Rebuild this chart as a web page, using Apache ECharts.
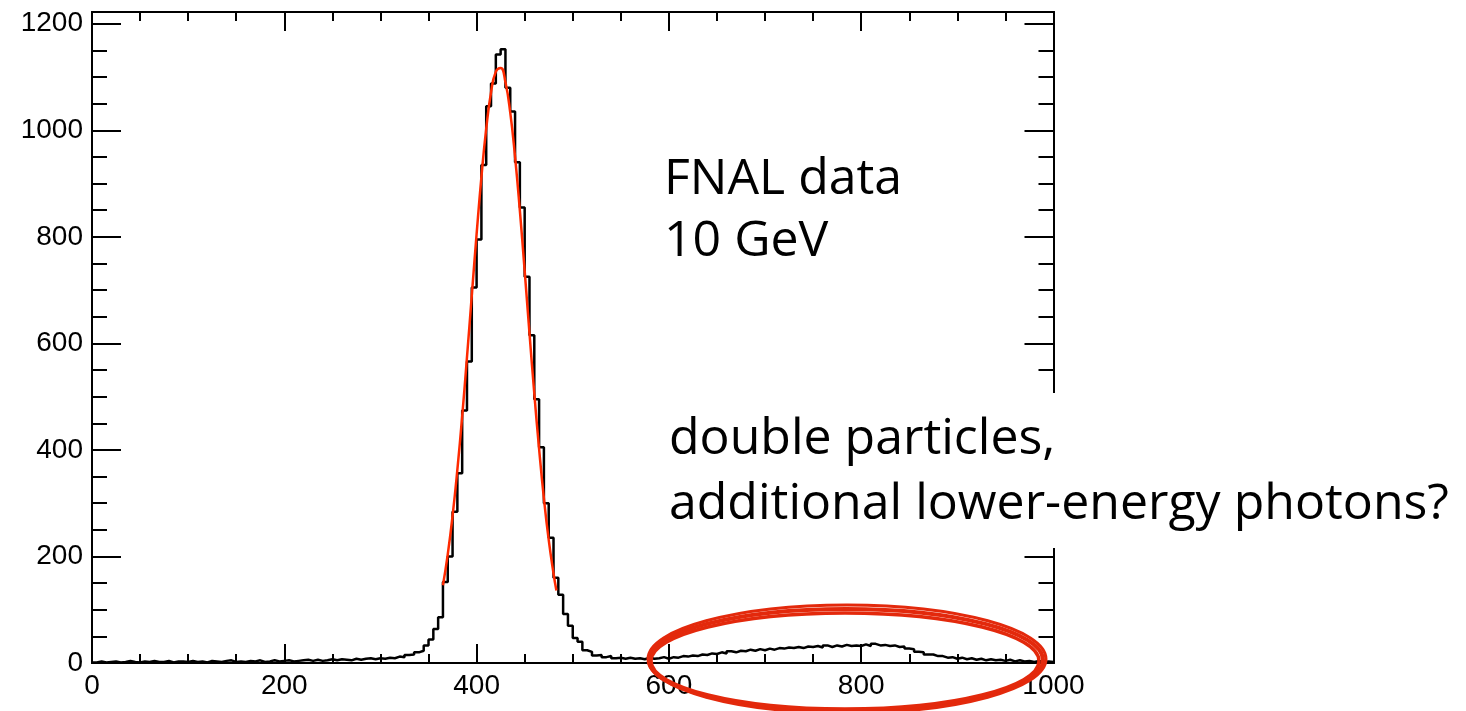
<!DOCTYPE html>
<html>
<head>
<meta charset="utf-8">
<title>FNAL data 10 GeV</title>
<script src="https://cdn.jsdelivr.net/npm/echarts@6/dist/echarts.min.js"></script>
<style>
  html, body { margin: 0; padding: 0; background: #fff; }
  #chart { width: 1466px; height: 711px; }
</style>
</head>
<body>
<div id="chart"></div>
<script>
// histogram: bins of width 5 from 0 to 1000, counts
const binWidth = 5;
const counts = [
  1, 3, 1, 2, 3, 1, 2, 4, 2, 1,
  3, 2, 4, 2, 2, 4, 1, 3, 3, 2,
  4, 2, 3, 1, 4, 3, 2, 4, 5, 2,
  3, 2, 4, 3, 5, 2, 3, 5, 3, 4,
  5, 3, 4, 5, 6, 4, 6, 4, 5, 7,
  5, 7, 6, 5, 8, 6, 8, 9, 7, 9,
  8, 10, 9, 12, 11, 15, 16, 20, 23, 33,
  44, 64, 86, 152, 200, 284, 356, 474, 566, 705,
  795, 935, 1045, 1088, 1142, 1152, 1080, 1035, 940, 855,
  725, 615, 495, 405, 300, 235, 160, 128, 92, 70,
  47, 40, 24, 21, 14, 15, 11, 13, 9, 10,
  8, 10, 8, 9, 7, 10, 8, 9, 11, 8,
  11, 10, 13, 12, 14, 13, 16, 15, 18, 17,
  20, 18, 22, 20, 23, 22, 25, 23, 26, 24,
  27, 25, 28, 27, 29, 28, 30, 28, 31, 30,
  32, 29, 33, 30, 33, 31, 34, 32, 33, 32,
  35, 32, 36, 33, 34, 32, 33, 30, 31, 27,
  26, 21, 20, 16, 16, 13, 13, 10, 11, 8,
  10, 7, 9, 6, 8, 5, 7, 5, 6, 4,
  6, 3, 5, 3, 4, 2, 4, 2, 3, 2
];

// red fit curve
const fitX = [365, 370, 375, 380, 385, 390, 395, 400, 405, 410, 415, 420, 425,
              430, 435, 440, 445, 450, 455, 460, 465, 470, 475, 480, 483];
const fitY = [146, 204, 276, 363, 463, 574, 690, 805, 912, 1003, 1071, 1110, 1117,
              1090, 1033, 950, 849, 736, 619, 506, 402, 309, 231, 168, 136];

const xMin = 0, xMax = 1000, xStep = 200;
const yMin = 0, yMax = 1222, yStep = 200, yMinorStep = 50;

const histData = counts.map((c, i) => [i * binWidth, c]);
histData.push([xMax, counts[counts.length - 1]]);
const fitData = fitX.map((x, i) => [x, fitY[i]]);

const labelFont = { color: '#000', fontSize: 28, fontFamily: '"Liberation Sans", Arial, sans-serif' };
const black = { color: '#000', width: 2 };
const textFont = '50px "Open Sans"';

function xAx(pos, withLabels) {
  return {
    type: 'value', position: pos, min: xMin, max: xMax, interval: xStep,
    axisLine: { show: true, onZero: false, lineStyle: black },
    axisTick: { show: true, inside: true, length: 19, lineStyle: black },
    minorTick: { show: true, splitNumber: 4, length: 9, lineStyle: black },
    splitLine: { show: false },
    minorSplitLine: { show: false },
    axisLabel: withLabels ? Object.assign({ margin: 9, formatter: v => String(v) }, labelFont) : { show: false }
  };
}

function yAx(pos, step, tickLen, withLabels) {
  return {
    type: 'value', position: pos, min: yMin, max: yMax, interval: step,
    axisLine: { show: true, onZero: false, lineStyle: black },
    axisTick: { show: true, inside: true, length: tickLen, lineStyle: black },
    splitLine: { show: false },
    axisLabel: withLabels ? Object.assign({
      margin: 9,
      formatter: v => (v % yStep === 0 ? String(v) : '')
    }, labelFont) : { show: false }
  };
}

const chart = echarts.init(document.getElementById('chart'));
chart.setOption({
  animation: false,
  backgroundColor: '#fff',
  grid: { left: 92, right: 412.5, top: 12, bottom: 48, outerBoundsMode: 'none' },
  xAxis: [xAx('bottom', true), xAx('top', false)],
  yAxis: [
    yAx('left', yStep, 29, true),
    yAx('left', yMinorStep, 15, false),
    yAx('right', yStep, 29, false),
    yAx('right', yMinorStep, 15, false)
  ],
  series: [
    {
      type: 'line', xAxisIndex: 0, yAxisIndex: 0,
      data: histData, step: 'end', showSymbol: false,
      lineStyle: { color: '#000', width: 2.5 }, z: 3
    },
    {
      type: 'line', xAxisIndex: 0, yAxisIndex: 0,
      data: fitData, smooth: true, showSymbol: false,
      lineStyle: { color: '#ff2a00', width: 2.5 }, z: 4
    }
  ],
  graphic: [
    // white box behind the annotation, it hides part of the right frame
    { type: 'rect', z: 100, shape: { x: 660, y: 393, width: 806, height: 155 }, style: { fill: '#fff' } },
    { type: 'text', z: 101, style: { text: 'FNAL data', x: 664, y: 155, font: textFont, fill: '#000' } },
    { type: 'text', z: 101, style: { text: '10 GeV', x: 664, y: 217, font: textFont, fill: '#000' } },
    { type: 'text', z: 101, style: { text: 'double particles,', x: 669, y: 415, font: textFont, fill: '#000' } },
    { type: 'text', z: 101, style: { text: 'additional lower-energy photons?', x: 669, y: 480, font: textFont, fill: '#000' } },
    // hand drawn red ring round the second bump
    { type: 'ellipse', z: 102, shape: { cx: 846, cy: 660, rx: 197, ry: 51 }, style: { fill: null, stroke: '#e3290c', lineWidth: 4 } },
    { type: 'ellipse', z: 102, shape: { cx: 845, cy: 661, rx: 194, ry: 48 }, style: { fill: null, stroke: '#e3290c', lineWidth: 3.5 } },
    { type: 'ellipse', z: 102, shape: { cx: 847, cy: 659, rx: 199, ry: 54 }, style: { fill: null, stroke: '#e3290c', lineWidth: 3 } }
  ]
});
</script>
</body>
</html>
